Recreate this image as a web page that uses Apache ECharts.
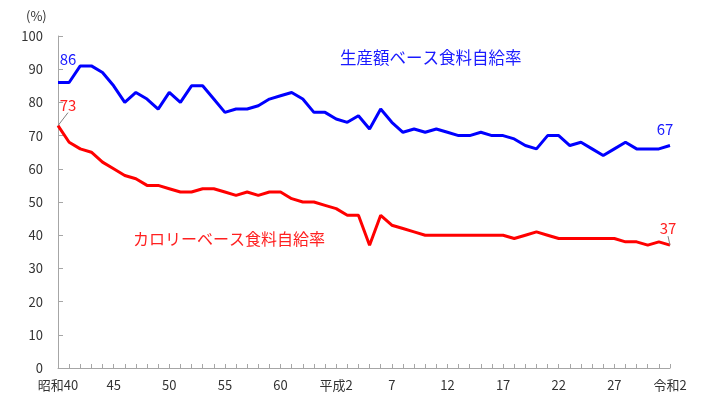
<!DOCTYPE html>
<html><head><meta charset="utf-8">
<script src="https://cdn.jsdelivr.net/npm/echarts@6/dist/echarts.min.js"></script>
<style>html,body{margin:0;padding:0;background:#fff}#c{width:720px;height:406px}</style>
</head><body><div id="c"></div>
<script>
// Years: 昭和40 (1965) to 令和2 (2020)
const categories = [
 "昭和40","41","42","43","44","45","46","47","48","49",
 "50","51","52","53","54","55","56","57","58","59",
 "60","61","62","63","平成元","平成2","3","4","5","6",
 "7","8","9","10","11","12","13","14","15","16",
 "17","18","19","20","21","22","23","24","25","26",
 "27","28","29","30","令和元","令和2"];
const productionValues = [
 86,86,91,91,89,85,80,83,81,78,
 83,80,85,85,81,77,78,78,79,81,
 82,83,81,77,77,75,74,76,72,78,
 74,71,72,71,72,71,70,70,71,70,
 70,69,67,66,70,70,67,68,66,64,
 66,68,66,66,66,67];
const calorieValues = [
 73,68,66,65,62,60,58,57,55,55,
 54,53,53,54,54,53,52,53,52,53,
 53,51,50,50,49,48,46,46,37,46,
 43,42,41,40,40,40,40,40,40,40,
 40,39,40,41,40,39,39,39,39,39,
 39,38,38,37,38,37];
const yTicks = {min:0, max:100, interval:10};
const productionName = "生産額ベース食料自給率";
const calorieName = "カロリーベース食料自給率";

const FONT = "'Noto Sans CJK JP', sans-serif";
function endLabelData(values, color) {
  const last = values.length - 1;
  return values.map((v, i) => (i === 0 || i === last)
    ? {value: v, label: {show: true, color: color}}
    : v);
}
const chart = echarts.init(document.getElementById('c'), null, {renderer: 'canvas'});
chart.setOption({
  animation: false,
  backgroundColor: '#fff',
  textStyle: {fontFamily: FONT},
  title: {text: '(%)', left: 21, top: 5,
    textStyle: {fontSize: 13, fontWeight: 'normal', color: '#333', fontFamily: FONT}},
  grid: {left: 58, right: 50, top: 36, bottom: 38, containLabel: false},
  xAxis: {
    type: 'category', data: categories, boundaryGap: false,
    axisLine: {lineStyle: {color: '#a6a6a6', width: 1}},
    axisTick: {show: true, inside: true, interval: 0, length: 4, lineStyle: {color: '#a6a6a6'}},
    axisLabel: {interval: 4, color: '#333', fontSize: 13, margin: 11, fontFamily: FONT},
    splitLine: {show: false}
  },
  yAxis: {
    type: 'value', min: yTicks.min, max: yTicks.max, interval: yTicks.interval,
    axisLine: {show: true, lineStyle: {color: '#a6a6a6', width: 1}},
    axisTick: {show: true, inside: true, length: 5, lineStyle: {color: '#a6a6a6'}},
    axisLabel: {color: '#333', fontSize: 13, margin: 15, fontFamily: FONT},
    splitLine: {show: false}
  },
  series: [
    {
      name: productionName, type: 'line', data: endLabelData(productionValues, '#1a1aff'),
      symbol: 'circle', symbolSize: 0.01, showSymbol: true,
      lineStyle: {color: '#0000ff', width: 3}, itemStyle: {color: '#0000ff'},
      label: {show: false, position: 'top', distance: 4, fontSize: 15, fontFamily: FONT},
      labelLayout: function (p) {
        return p.dataIndex === 0 ? {dx: 10, dy: -12} : {dx: -5, dy: -5};
      }
    },
    {
      name: calorieName, type: 'line', data: endLabelData(calorieValues, '#ff2020'),
      symbol: 'circle', symbolSize: 0.01, showSymbol: true,
      lineStyle: {color: '#ff0000', width: 3}, itemStyle: {color: '#ff0000'},
      label: {show: false, position: 'top', distance: 4, fontSize: 15, fontFamily: FONT},
      labelLine: {show: true, lineStyle: {color: '#808080', width: 1}},
      labelLayout: function (p) {
        return p.dataIndex === 0 ? {dx: 10, dy: -9} : {dx: -2, dy: -5};
      }
    }
  ],
  graphic: [
    {type: 'text', left: 340, top: 49,
     style: {text: productionName, fill: '#1a1aff', fontSize: 16.5, fontFamily: FONT}},
    {type: 'text', left: 133, top: 231,
     style: {text: calorieName, fill: '#ff2020', fontSize: 16, fontFamily: FONT}}
  ]
});
</script></body></html>
